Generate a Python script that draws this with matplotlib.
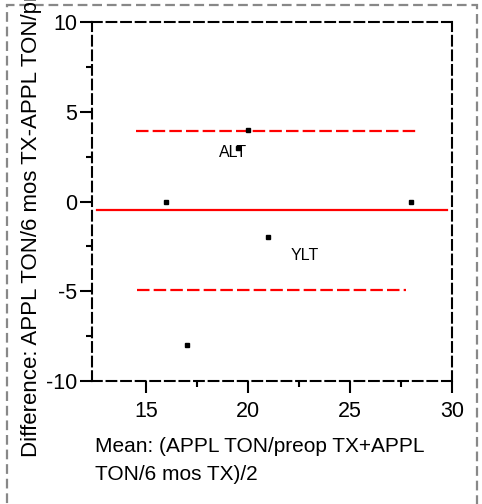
import matplotlib
matplotlib.use("Agg")
import matplotlib.pyplot as plt
from matplotlib.patches import Rectangle

plt.rcParams["font.family"] = ["Liberation Sans", "DejaVu Sans"]
plt.rcParams["lines.scale_dashes"] = False
plt.rcParams["axes.unicode_minus"] = False

# Bland-Altman style data
mean_vals = [16, 28, 20, 19.5, 21, 17]
diff_vals = [0, 0, 4, 3, -2, -8]

bias = -0.5
bias_span = [12.6, 29.75]
upper_loa = 3.95
upper_span = [14.5, 28.3]
lower_loa = -4.95
lower_span = [14.55, 27.75]

labels = ["ALT", "YLT"]
label_x = [19.25, 22.8]
label_y = [2.75, -3.0]

xticks = [15, 20, 25, 30]
xminor = [17.5, 22.5, 27.5]
yticks = [-10, -5, 0, 5, 10]
yminor = [-7.5, -2.5, 2.5, 7.5]

W, H = 482, 504
fig = plt.figure(figsize=(W / 100, H / 100), dpi=100)
ax = fig.add_axes([92 / W, (H - 381) / H, 360 / W, 359 / H])

# outer dashed frame (bottom edge falls outside the image)
fig.patches.append(Rectangle((7 / W, -20 / H), 470 / W, (H - 5 + 20) / H,
                             transform=fig.transFigure, fill=False,
                             edgecolor="#888888", linewidth=1.6,
                             linestyle=(0, (7, 3.5)), zorder=0))

ax.plot(bias_span, [bias, bias], color="red", linewidth=1.6)
ax.plot(upper_span, [upper_loa, upper_loa], color="red", linewidth=1.6,
        linestyle=(0, (9, 3)))
ax.plot(lower_span, [lower_loa, lower_loa], color="red", linewidth=1.6,
        linestyle=(0, (9, 3)))
ax.plot(mean_vals, diff_vals, linestyle="none", marker="s", markersize=3,
        color="black", zorder=3)

for t, x, y in zip(labels, label_x, label_y):
    ax.text(x, y, t, fontsize=11.5, ha="center", va="center")

ax.set_xlim(12.35, 30)
ax.set_ylim(-10, 10)
ax.set_xticks(xticks)
ax.set_xticks(xminor, minor=True)
ax.set_yticks(yticks)
ax.set_yticks(yminor, minor=True)
ax.tick_params(which="major", length=8.5, width=1.5, labelsize=15.5)
ax.tick_params(which="minor", length=4.5, width=1.5)
ax.tick_params(axis="x", which="major", pad=6)
ax.tick_params(axis="y", which="major", pad=2)

for s in ax.spines.values():
    s.set_linestyle((0, (7, 3.5)))
    s.set_linewidth(1.5)
    s.set_color("black")

fig.text(95 / W, (H - 452) / H, "Mean: (APPL TON/preop TX+APPL",
         fontsize=15, ha="left", va="baseline")
fig.text(95 / W, (H - 480) / H, "TON/6 mos TX)/2",
         fontsize=15, ha="left", va="baseline")
# the reference cuts this label off at the top edge
fig.text(32 / W, (H - 457) / H,
         "Difference: APPL TON/6 mos TX-APPL TON/preop TX",
         fontsize=16, rotation=90, ha="center", va="bottom")

fig.savefig("out.png", dpi=100)
